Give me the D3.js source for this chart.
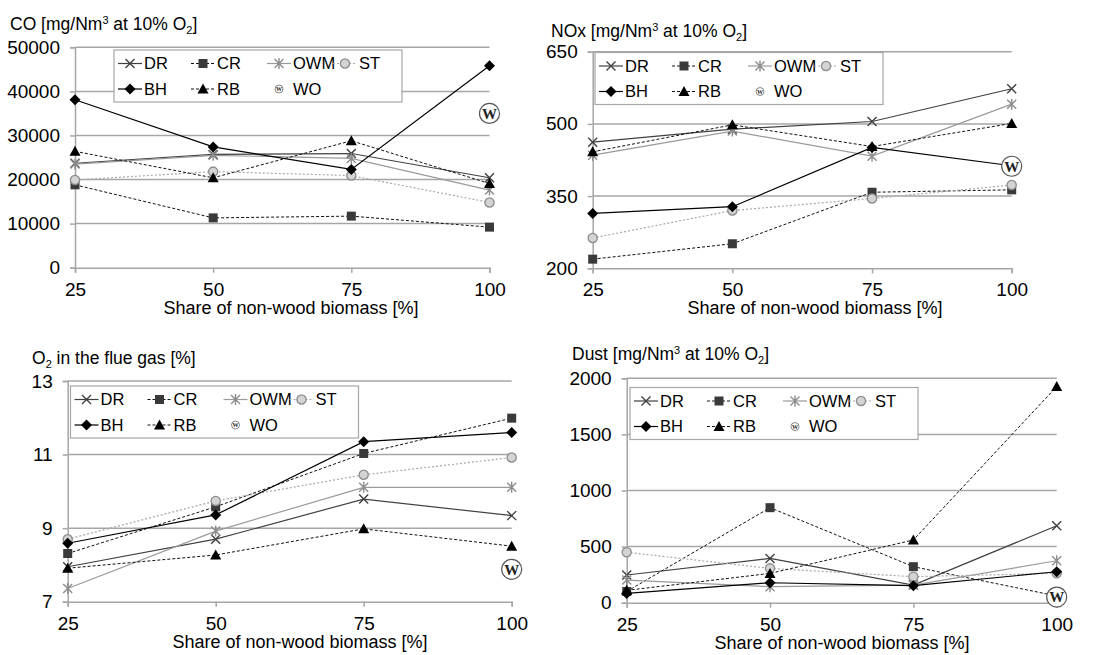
<!DOCTYPE html>
<html>
<head>
<meta charset="utf-8">
<script src="https://cdn.jsdelivr.net/npm/d3@7/dist/d3.min.js"></script>
<style>
  html, body { margin: 0; padding: 0; background: #fff; }
  svg { display: block; font-family: "Liberation Sans", Arial, sans-serif; }
</style>
</head>
<body>
<svg id="chart" width="1110" height="655"></svg>
<script>
// ---------------- DATA ----------------
const categories = [25, 50, 75, 100];
const seriesNames = ["DR", "CR", "OWM", "ST", "BH", "RB", "WO"];
const xAxisTitle = "Share of non-wood biomass [%]";

// CO [mg/Nm3 at 10% O2]
const coTicks = [0, 10000, 20000, 30000, 40000, 50000];
const coDR  = [23700, 25700, 25900, 20400];
const coCR  = [18800, 11300, 11700, 9200];
const coOWM = [23500, 25500, 24800, 17600];
const coST  = [19900, 21800, 20900, 14800];
const coBH  = [38100, 27400, 22300, 45800];
const coRB  = [26400, 20400, 28800, 19100];
const coWO  = [null, null, null, 35000];

// NOx [mg/Nm3 at 10% O2]
const noxTicks = [200, 350, 500, 650];
const noxDR  = [462, 489, 505, 573];
const noxCR  = [219, 251, 358, 363];
const noxOWM = [435, 485, 433, 541];
const noxST  = [263, 320, 345, 373];
const noxBH  = [314, 328, 451, 413];
const noxRB  = [442, 498, 453, 501];
const noxWO  = [null, null, null, 412];

// O2 in the flue gas [%]
const o2Ticks = [7, 9, 11, 13];
const o2DR  = [7.95, 8.70, 9.79, 9.34];
const o2CR  = [8.31, 9.58, 11.03, 11.99];
const o2OWM = [7.36, 8.92, 10.11, 10.11];
const o2ST  = [8.70, 9.74, 10.45, 10.92];
const o2BH  = [8.59, 9.36, 11.35, 11.60];
const o2RB  = [7.91, 8.27, 8.98, 8.51];
const o2WO  = [null, null, null, 7.88];

// Dust [mg/Nm3 at 10% O2]
const dustTicks = [0, 500, 1000, 1500, 2000];
const dustDR  = [247, 395, 157, 686];
const dustCR  = [100, 847, 321, 60];
const dustOWM = [202, 143, 157, 374];
const dustST  = [449, 306, 232, 262];
const dustBH  = [83, 178, 152, 276];
const dustRB  = [110, 261, 559, 1926];
const dustWO  = [null, null, null, 50];

// ---------------- STYLES ----------------
const styles = {
  DR:  { marker: "x",        line: "#404040", dash: null,  width: 1.2 },
  CR:  { marker: "square",   line: "#111",    dash: "3,2", width: 1 },
  OWM: { marker: "asterisk", line: "#9a9a9a", dash: null,  width: 1.2 },
  ST:  { marker: "circle",   line: "#a8a8a8", dash: "2,2", width: 1.2 },
  BH:  { marker: "diamond",  line: "#000",    dash: null,  width: 1.2 },
  RB:  { marker: "triangle", line: "#111",    dash: "3,2", width: 1 },
  WO:  { marker: "W",        line: null,      dash: null,  width: 0 }
};

const svg = d3.select("#chart");
const GRID = "#a6a6a6";
const TICKFONT = 19;
const TITLEFONT = 17.5;
const LEGFONT = 16.5;

function drawMarker(g, type, x, y, big) {
  const m = g.append("g").attr("transform", `translate(${x},${y})`);
  switch (type) {
    case "x":
      m.append("path").attr("d", "M-4.5,-4.5L4.5,4.5M-4.5,4.5L4.5,-4.5")
        .attr("stroke", "#404040").attr("stroke-width", 1.4).attr("fill", "none");
      break;
    case "square":
      m.append("rect").attr("x", -4.5).attr("y", -4.5).attr("width", 9).attr("height", 9)
        .attr("fill", "#3a3a3a");
      break;
    case "asterisk":
      m.append("path").attr("d", "M-4.5,-4.5L4.5,4.5M-4.5,4.5L4.5,-4.5M0,-5.5L0,5.5")
        .attr("stroke", "#8c8c8c").attr("stroke-width", 1.4).attr("fill", "none");
      break;
    case "circle":
      m.append("circle").attr("r", 4.6).attr("fill", "#d4d4d4")
        .attr("stroke", "#8c8c8c").attr("stroke-width", 1.3);
      break;
    case "diamond":
      m.append("path").attr("d", "M0,-5.5L5.5,0L0,5.5L-5.5,0Z").attr("fill", "#000");
      break;
    case "triangle":
      m.append("path").attr("d", "M0,-5.5L5.5,4.5L-5.5,4.5Z").attr("fill", "#000");
      break;
    case "W": {
      const r = big ? 10 : 4;
      m.append("circle").attr("r", r).attr("fill", "#fff")
        .attr("stroke", "#555").attr("stroke-width", big ? 1.2 : 0.7);
      m.append("text").text("W").attr("text-anchor", "middle").attr("dy", "0.36em")
        .attr("font-family", "'Liberation Serif', 'DejaVu Serif', serif").attr("font-weight", "bold")
        .attr("font-size", big ? 15 : 6).attr("fill", "#222");
      break;
    }
  }
}

function drawTitle(g, x, y, parts) {
  const t = g.append("text").attr("x", x).attr("y", y).attr("font-size", TITLEFONT).attr("fill", "#000");
  parts.forEach(p => {
    const ts = t.append("tspan").text(p.t);
    if (p.dy) ts.attr("dy", p.dy);
    if (p.s) ts.attr("font-size", p.s);
  });
}

function drawPanel(cfg) {
  const g = svg.append("g");
  const x = d3.scalePoint().domain(categories).range([cfg.left, cfg.right]);
  const y = d3.scaleLinear().domain([cfg.ticks[0], cfg.ticks[cfg.ticks.length - 1]])
    .range([cfg.bottom, cfg.top]);

  // gridlines
  g.append("g").selectAll("line").data(cfg.ticks.slice(1)).join("line")
    .attr("x1", cfg.left).attr("x2", cfg.right)
    .attr("y1", d => y(d)).attr("y2", d => y(d))
    .attr("stroke", GRID).attr("stroke-width", 1.5);

  // y axis
  const yAxis = d3.axisLeft(y).tickValues(cfg.ticks).tickSize(5).tickPadding(10)
    .tickFormat(d3.format("d"));
  const ya = g.append("g").attr("transform", `translate(${cfg.left},0)`).call(yAxis);
  ya.select(".domain").attr("stroke", GRID).attr("stroke-width", 1.5);
  ya.selectAll(".tick line").attr("stroke", GRID).attr("stroke-width", 1.5);
  ya.selectAll(".tick text").attr("font-size", TICKFONT).attr("fill", "#000")
    .attr("font-family", "'Liberation Sans', Arial, sans-serif");

  // x axis
  const xAxis = d3.axisBottom(x).tickSize(5).tickPadding(9.5);
  const xa = g.append("g").attr("transform", `translate(0,${cfg.bottom})`).call(xAxis);
  xa.select(".domain").attr("stroke", GRID).attr("stroke-width", 1.5);
  xa.selectAll(".tick line").attr("stroke", GRID).attr("stroke-width", 1.5);
  xa.selectAll(".tick text").attr("font-size", TICKFONT).attr("fill", "#000")
    .attr("font-family", "'Liberation Sans', Arial, sans-serif");

  // x axis title
  g.append("text").attr("x", cfg.xTitleX).attr("y", cfg.bottom + 46)
    .attr("text-anchor", "middle").attr("font-size", TITLEFONT + 0.5).text(xAxisTitle);

  // y title
  drawTitle(g, cfg.titleX, cfg.titleY, cfg.title);

  // series
  const line = d3.line().defined(d => d.v != null).x(d => x(d.c)).y(d => y(d.v));
  seriesNames.forEach((name, i) => {
    const st = styles[name];
    const pts = categories.map((c, j) => ({ c, v: cfg.series[i][j] }));
    if (st.line) {
      g.append("path").datum(pts).attr("d", line).attr("fill", "none")
        .attr("stroke", st.line).attr("stroke-width", st.width)
        .attr("stroke-dasharray", st.dash);
    }
    const mg = g.append("g");
    pts.filter(d => d.v != null).forEach(d => drawMarker(mg, st.marker, x(d.c), y(d.v), true));
  });

  // legend
  const lg = g.append("g").attr("transform", `translate(${cfg.legX},${cfg.legY})`);
  lg.append("rect").attr("width", 288).attr("height", 52).attr("fill", "#fff")
    .attr("stroke", GRID).attr("stroke-width", 1.2);
  const colX = [4, 77, 153, 219];
  const rowY = [13.5, 39];
  const layout = [["DR", 0, 0], ["CR", 1, 0], ["OWM", 2, 0], ["ST", 3, 0],
                  ["BH", 0, 1], ["RB", 1, 1], ["WO", 2, 1]];
  layout.forEach(([name, c, r]) => {
    const st = styles[name];
    const lx = colX[c], ly = rowY[r];
    if (st.line) {
      lg.append("line").attr("x1", lx).attr("x2", lx + 24).attr("y1", ly).attr("y2", ly)
        .attr("stroke", st.line).attr("stroke-width", st.width).attr("stroke-dasharray", st.dash);
    }
    drawMarker(lg, st.marker, lx + 12, ly, false);
    lg.append("text").attr("x", lx + 26).attr("y", ly).attr("dy", "0.36em")
      .attr("font-size", LEGFONT).text(name);
  });
}

const supTitle = (lead) => [
  { t: lead + " [mg/Nm" }, { t: "3", dy: -6, s: 11 }, { t: " at 10% O", dy: 6 },
  { t: "2", dy: 4, s: 11 }, { t: "]", dy: -4 }
];

drawPanel({
  left: 75, right: 489.5, top: 47.3, bottom: 267.7, ticks: coTicks,
  series: [coDR, coCR, coOWM, coST, coBH, coRB, coWO],
  title: supTitle("CO"), titleX: 10, titleY: 30, xTitleX: 291,
  legX: 114, legY: 50
});
drawPanel({
  left: 592.7, right: 1011.7, top: 51.7, bottom: 268.3, ticks: noxTicks,
  series: [noxDR, noxCR, noxOWM, noxST, noxBH, noxRB, noxWO],
  title: supTitle("NOx"), titleX: 551, titleY: 37, xTitleX: 815,
  legX: 595, legY: 52.5
});
drawPanel({
  left: 67.7, right: 511.7, top: 381, bottom: 601.7, ticks: o2Ticks,
  series: [o2DR, o2CR, o2OWM, o2ST, o2BH, o2RB, o2WO],
  title: [{ t: "O" }, { t: "2", dy: 4, s: 11 }, { t: " in the flue gas [%]", dy: -4 }],
  titleX: 32, titleY: 364, xTitleX: 300,
  legX: 70.5, legY: 386
});
drawPanel({
  left: 626.7, right: 1056.7, top: 378.3, bottom: 602.7, ticks: dustTicks,
  series: [dustDR, dustCR, dustOWM, dustST, dustBH, dustRB, dustWO],
  title: supTitle("Dust"), titleX: 572, titleY: 360, xTitleX: 842,
  legX: 630, legY: 387.5
});
</script>
</body>
</html>
